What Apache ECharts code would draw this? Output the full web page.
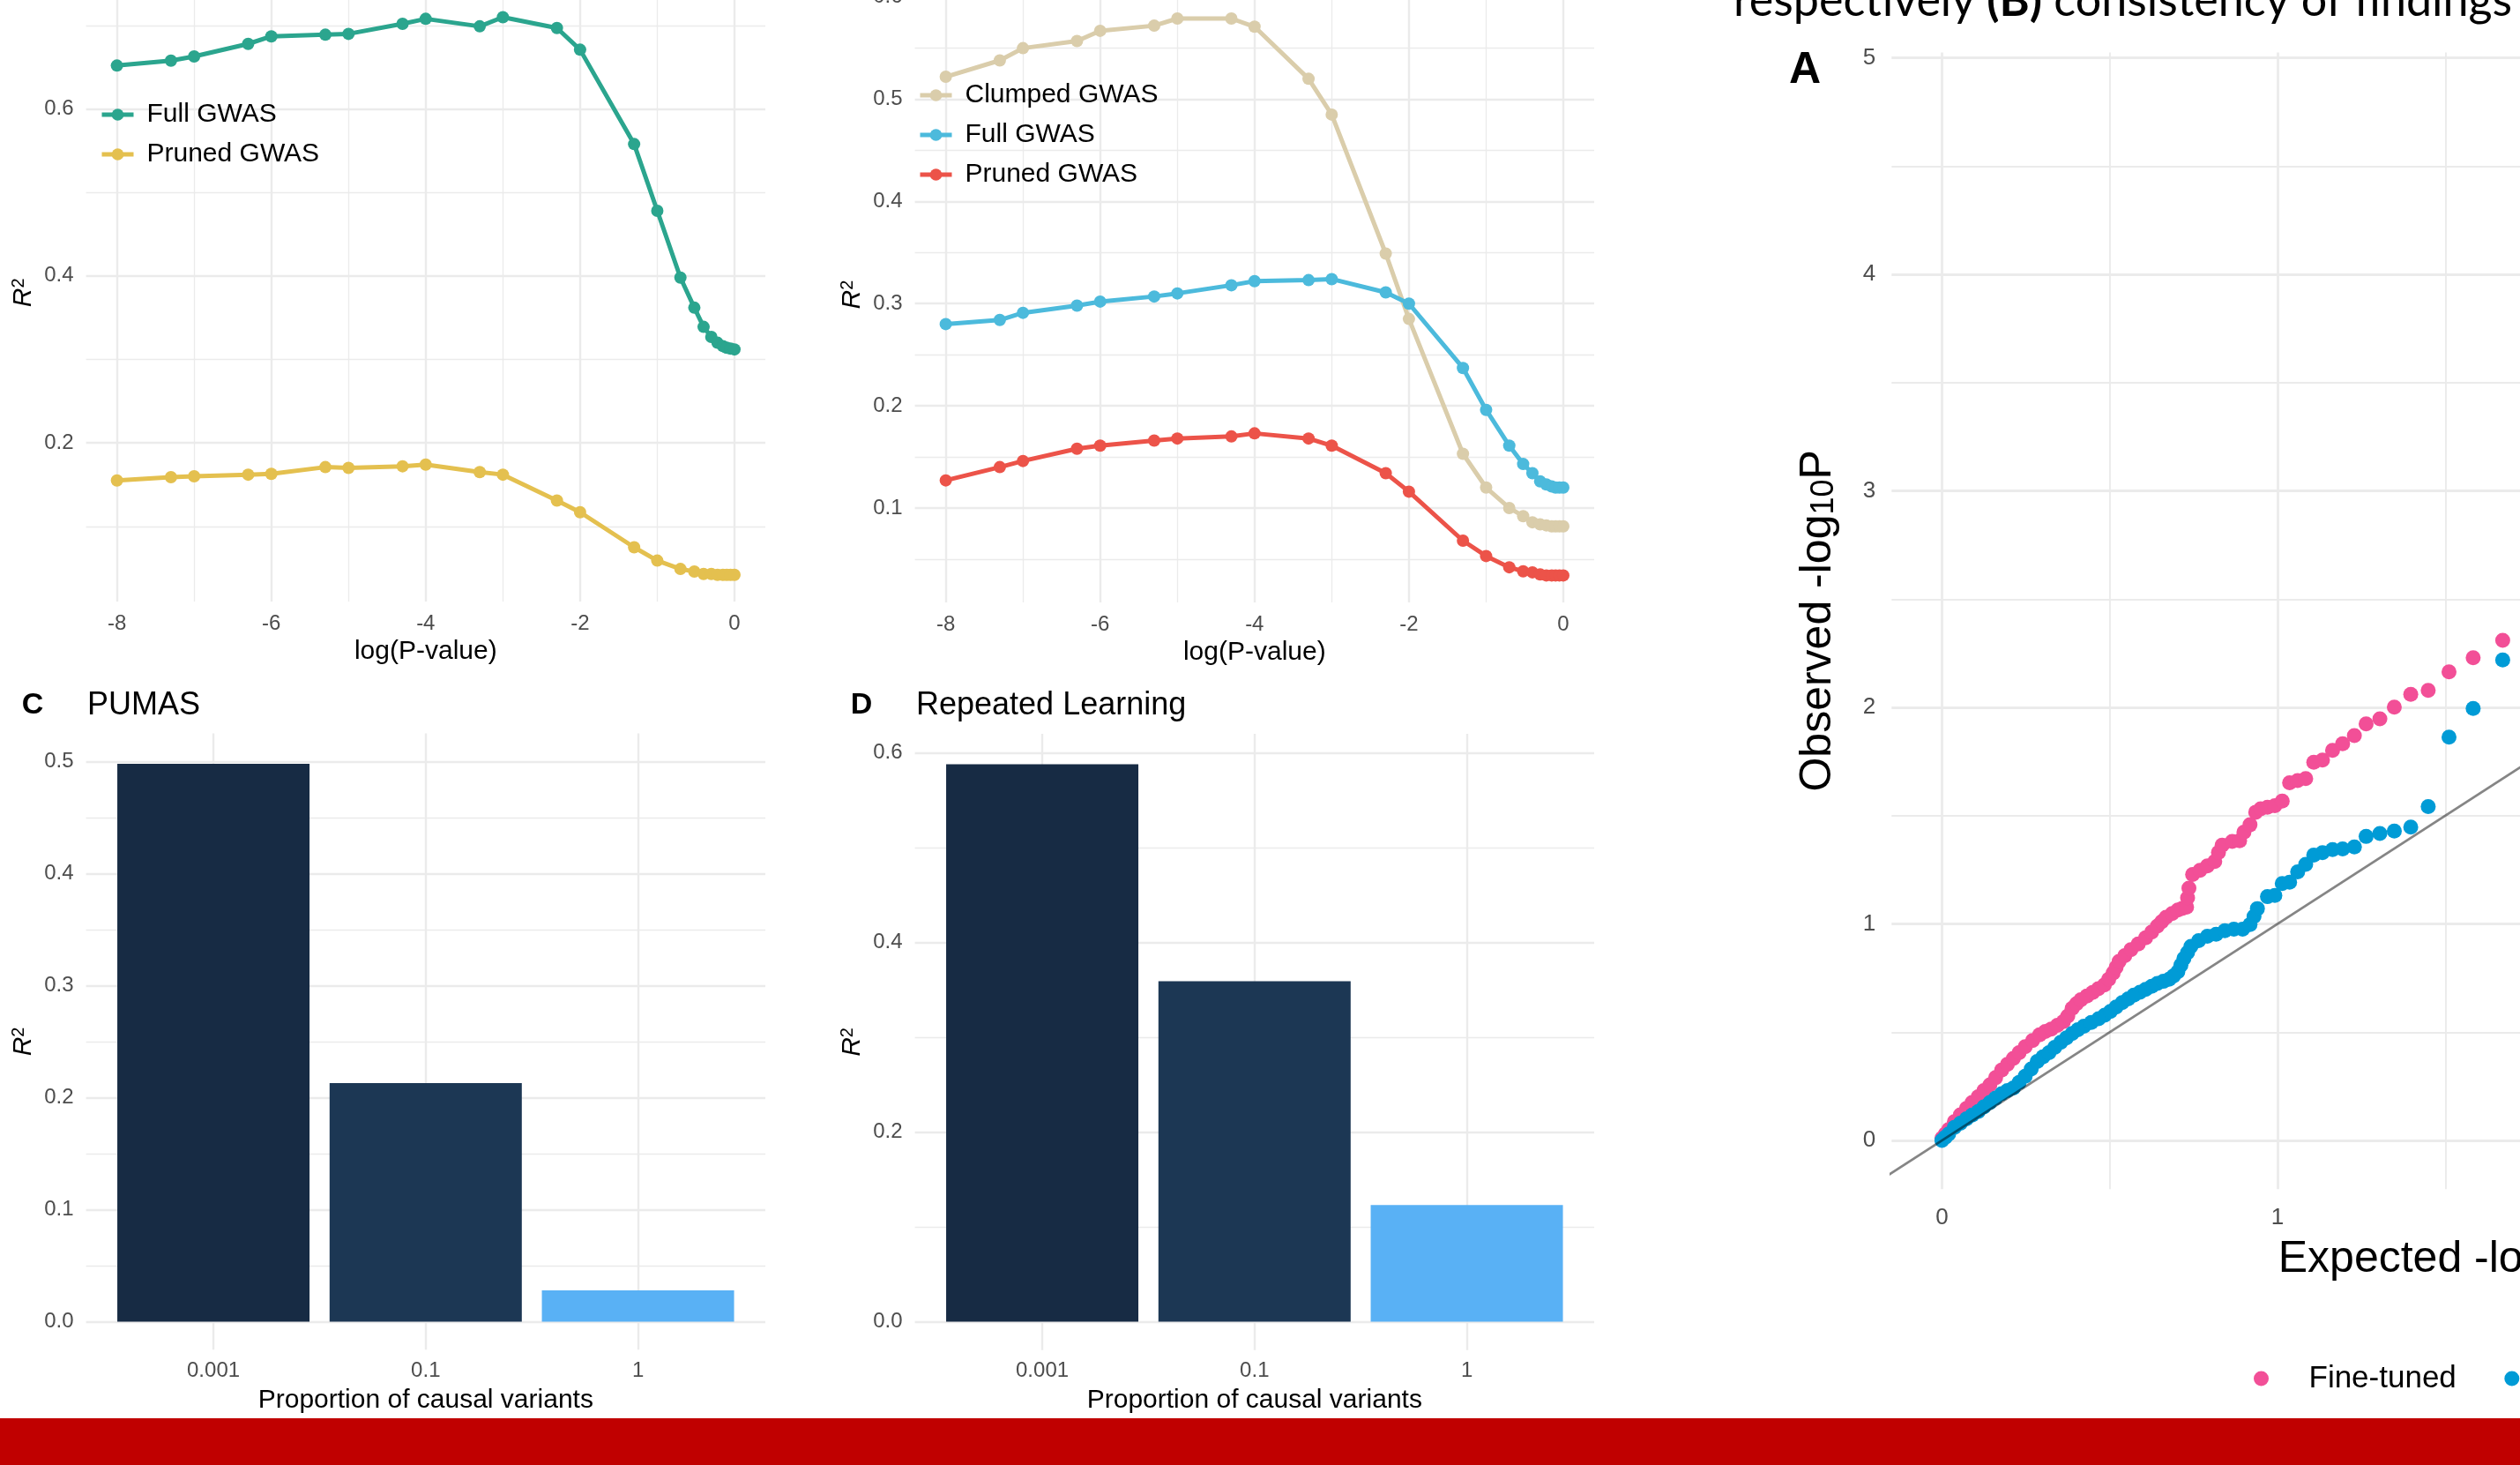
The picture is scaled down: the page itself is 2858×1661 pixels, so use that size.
<!DOCTYPE html>
<html>
<head>
<meta charset="utf-8">
<script src="https://cdn.jsdelivr.net/npm/echarts@6/dist/echarts.min.js"></script>
<style>
  html, body { margin: 0; padding: 0; background: #ffffff; }
  #chart { width: 2858px; height: 1661px; }
</style>
</head>
<body>
<div id="chart"></div>
<script>
// ---------------- data ----------------
// P-value thresholds on a log10 scale (shared by both threshold panels)
const logP = [-8, -7.3, -7, -6.3, -6, -5.3, -5, -4.3, -4, -3.3, -3, -2.3, -2, -1.3, -1, -0.7, -0.52, -0.4, -0.3, -0.22, -0.15, -0.1, -0.05, 0];

// left threshold panel
const simFull   = [0.652, 0.658, 0.663, 0.678, 0.687, 0.689, 0.690, 0.702, 0.708, 0.699, 0.710, 0.697, 0.671, 0.558, 0.478, 0.398, 0.362, 0.339, 0.327, 0.320, 0.316, 0.314, 0.313, 0.312];
const simPruned = [0.155, 0.159, 0.160, 0.162, 0.163, 0.171, 0.170, 0.172, 0.174, 0.165, 0.162, 0.131, 0.117, 0.075, 0.059, 0.049, 0.046, 0.043, 0.043, 0.042, 0.042, 0.042, 0.042, 0.042];

// right threshold panel
const ukbClumped = [0.522, 0.538, 0.550, 0.557, 0.567, 0.572, 0.579, 0.579, 0.571, 0.520, 0.485, 0.349, 0.285, 0.153, 0.120, 0.100, 0.092, 0.086, 0.084, 0.083, 0.082, 0.082, 0.082, 0.082];
const ukbFull    = [0.280, 0.284, 0.291, 0.298, 0.302, 0.307, 0.310, 0.318, 0.322, 0.323, 0.324, 0.311, 0.300, 0.237, 0.196, 0.161, 0.143, 0.134, 0.126, 0.123, 0.121, 0.120, 0.120, 0.120];
const ukbPruned  = [0.127, 0.140, 0.146, 0.158, 0.161, 0.166, 0.168, 0.170, 0.173, 0.168, 0.161, 0.134, 0.116, 0.068, 0.053, 0.042, 0.038, 0.037, 0.035, 0.034, 0.034, 0.034, 0.034, 0.034];

// bar panels
const causalProps = ['0.001', '0.1', '1'];
const pumasR2     = [0.498, 0.213, 0.028];
const repeatedR2  = [0.588, 0.359, 0.123];

// QQ plot: [expected -log10 P, observed -log10 P]
const qqFineTuned = [
  [0.000,0.010],[0.010,0.030],[0.020,0.050],[0.037,0.087],[0.055,0.118],[0.073,0.148],[0.090,0.175],[0.108,0.202],
  [0.125,0.230],[0.143,0.257],[0.160,0.290],[0.178,0.325],[0.195,0.352],[0.213,0.379],[0.230,0.406],[0.248,0.433],
  [0.270,0.462],[0.291,0.488],[0.308,0.503],[0.326,0.515],[0.344,0.532],[0.362,0.549],[0.375,0.575],[0.388,0.610],
  [0.401,0.632],[0.414,0.650],[0.432,0.667],[0.449,0.684],[0.466,0.701],[0.484,0.718],[0.497,0.745],[0.510,0.773],
  [0.519,0.800],[0.528,0.827],[0.545,0.854],[0.563,0.881],[0.585,0.908],[0.607,0.936],[0.625,0.963],[0.642,0.990],
  [0.655,1.010],[0.668,1.031],[0.686,1.048],[0.703,1.064],[0.716,1.072],[0.729,1.078],[0.732,1.120],[0.736,1.165],
  [0.747,1.228],[0.769,1.248],[0.791,1.268],[0.813,1.288],[0.824,1.330],[0.835,1.364],[0.865,1.381],[0.887,1.384],
  [0.900,1.424],[0.918,1.458],[0.935,1.516],[0.950,1.532],[0.970,1.539],[0.992,1.546],[1.014,1.567],[1.036,1.652],
  [1.060,1.662],[1.084,1.671],[1.108,1.747],[1.134,1.757],[1.164,1.802],[1.194,1.832],[1.229,1.870],[1.264,1.924],
  [1.305,1.947],[1.348,2.001],[1.397,2.060],[1.449,2.079],[1.511,2.164],[1.583,2.229],[1.671,2.310]
];
const qqPretrained = [
  [0.000,0.000],[0.010,0.015],[0.020,0.030],[0.037,0.060],[0.055,0.080],[0.073,0.100],[0.090,0.117],[0.108,0.134],
  [0.125,0.155],[0.143,0.175],[0.160,0.196],[0.178,0.216],[0.195,0.230],[0.213,0.243],[0.230,0.268],[0.248,0.297],
  [0.266,0.330],[0.284,0.365],[0.301,0.386],[0.319,0.406],[0.336,0.430],[0.354,0.453],[0.371,0.474],[0.388,0.494],
  [0.405,0.511],[0.423,0.528],[0.445,0.545],[0.467,0.562],[0.485,0.579],[0.502,0.596],[0.519,0.616],[0.537,0.637],
  [0.555,0.654],[0.572,0.671],[0.590,0.685],[0.607,0.698],[0.625,0.712],[0.642,0.725],[0.660,0.735],[0.677,0.745],
  [0.690,0.760],[0.703,0.779],[0.712,0.810],[0.721,0.840],[0.732,0.868],[0.742,0.896],[0.765,0.923],[0.791,0.943],
  [0.817,0.952],[0.843,0.969],[0.870,0.976],[0.896,0.976],[0.918,0.997],[0.930,1.035],[0.940,1.071],[0.970,1.126],
  [0.992,1.132],[1.014,1.187],[1.036,1.193],[1.060,1.241],[1.084,1.275],[1.108,1.318],[1.134,1.329],[1.164,1.343],
  [1.194,1.346],[1.229,1.356],[1.264,1.404],[1.305,1.418],[1.348,1.429],[1.397,1.447],[1.449,1.542],[1.511,1.863],
  [1.583,1.995],[1.671,2.219]
];
const qqDiagonal = [[-0.3, -0.3], [3.3, 3.3]];

// tick positions
const thresholdTicks = [-8, -6, -4, -2, 0];
const thresholdMinor = [-7, -5, -3, -1];
const simTicks   = [0.2, 0.4, 0.6];
const simMinor   = [0.1, 0.3, 0.5, 0.7];
const ukbTicks   = [0.1, 0.2, 0.3, 0.4, 0.5, 0.6];
const ukbMinor   = [0.05, 0.15, 0.25, 0.35, 0.45, 0.55];
const pumasTicks = [0, 0.1, 0.2, 0.3, 0.4, 0.5];
const pumasMinor = [0.05, 0.15, 0.25, 0.35, 0.45];
const rlTicks    = [0, 0.2, 0.4, 0.6];
const rlMinor    = [0.1, 0.3, 0.5];
const barSlots   = [1, 2, 3];
const qqXTicks   = [0, 1, 2, 3];
const qqXMinor   = [0.5, 1.5, 2.5];
const qqYTicks   = [0, 1, 2, 3, 4, 5];
const qqYMinor   = [0.5, 1.5, 2.5, 3.5, 4.5];

// ---------------- styling helpers ----------------
const FONT = '"Liberation Sans", Arial, Helvetica, sans-serif';
const GRID_COLOR = '#ebebeb';
const CLEAR = 'rgba(0,0,0,0)';
const TICK_GREY = '#4d4d4d';

// one colour per tick: grid colour where a line belongs, transparent elsewhere
function lineColors(min, max, step, at) {
  const n = Math.round((max - min) / step);
  const out = [];
  for (let i = 0; i <= n; i++) {
    const v = min + i * step;
    out.push(at.some(a => Math.abs(a - v) < step * 0.01) ? GRID_COLOR : CLEAR);
  }
  return out;
}
function pickLabel(v, step, ticks, fmt) {
  const t = ticks.find(a => Math.abs(a - v) < step * 0.01);
  return t === undefined ? '' : fmt(t);
}
// a value axis carrying the major grid + labels, and a twin carrying the minor grid
function axisPair(o) {
  const base = {
    type: 'value', gridIndex: o.grid, min: o.min, max: o.max, interval: o.step,
    axisLine: { show: false }, axisTick: { show: false }, splitArea: { show: false },
    minorTick: { show: false }, minorSplitLine: { show: false }, silent: true
  };
  const major = Object.assign({}, base, {
    splitLine: { show: true, lineStyle: { color: lineColors(o.min, o.max, o.step, o.major), width: o.majorW } },
    axisLabel: {
      show: true, margin: o.margin, color: TICK_GREY, fontFamily: FONT, fontSize: o.fontSize,
      formatter: v => pickLabel(v, o.step, o.major, o.fmt)
    }
  });
  if (o.name) {
    Object.assign(major, {
      name: o.name, nameLocation: 'middle', nameGap: o.nameGap, nameRotate: o.nameRotate || 0,
      nameTextStyle: o.nameStyle, nameMoveOverlap: false
    });
  }
  const list = [major];
  if (o.minor) {
    list.push(Object.assign({}, base, {
      splitLine: { show: true, lineStyle: { color: lineColors(o.min, o.max, o.step, o.minor), width: o.minorW } },
      axisLabel: { show: false }
    }));
  }
  return list;
}

const oneDecimal = v => v.toFixed(1);
const integer = v => String(Math.round(v));
const r2Name = '{r|R}{s|2}';
const r2Style = {
  rich: {
    r: { fontFamily: FONT, fontStyle: 'italic', fontSize: 30, lineHeight: 30, color: '#000' },
    s: { fontFamily: FONT, fontSize: 20, lineHeight: 14, verticalAlign: 'top', color: '#000' }
  }
};
const titleStyle = { fontFamily: FONT, fontSize: 30, color: '#000', lineHeight: 30 };
const qqNameStyle = {
  rich: {
    a: { fontFamily: FONT, fontSize: 50, lineHeight: 50, color: '#000' },
    s: { fontFamily: FONT, fontSize: 36, lineHeight: 22, verticalAlign: 'bottom', color: '#000' }
  }
};

// ---------------- layout (grids) ----------------
const grids = [
  { left: 97.6,  top: -18.4, width: 770.4, height: 700.4 },   // threshold, left
  { left: 1037.6, top: -14.9, width: 770.4, height: 698.0 },  // threshold, right
  { left: 97.6,  top: 831.6, width: 770.4, height: 698.7 },   // PUMAS
  { left: 1037.6, top: 832.0, width: 770.4, height: 698.8 },  // Repeated Learning
  { left: 2145.3, top: 59.4, width: 1256.0, height: 1288.9 }  // QQ
].map(g => Object.assign({ containLabel: false, outerBoundsMode: 'none' }, g));

// ---------------- axes ----------------
const xAxes = [], yAxes = [];
function addX(o) { const i = xAxes.length; xAxes.push(...axisPair(o)); return i; }
function addY(o) { const i = yAxes.length; yAxes.push(...axisPair(o)); return i; }

const thrX = g => ({
  grid: g, min: -8.4, max: 0.4, step: 0.2, major: thresholdTicks, minor: thresholdMinor,
  majorW: 2.4, minorW: 1.3, margin: 13, fontSize: 24, fmt: integer,
  name: 'log(P-value)', nameGap: 42, nameStyle: titleStyle
});
const xA = addX(thrX(0));
const yA = addY({ grid: 0, min: 0.01, max: 0.75, step: 0.01, major: simTicks, minor: simMinor,
  majorW: 2.4, minorW: 1.3, margin: 14, fontSize: 24, fmt: oneDecimal,
  name: r2Name, nameGap: 56, nameRotate: 90, nameStyle: r2Style });

const xB = addX(thrX(1));
const yB = addY({ grid: 1, min: 0.0075, max: 0.61, step: 0.0025, major: ukbTicks, minor: ukbMinor,
  majorW: 2.4, minorW: 1.3, margin: 14, fontSize: 24, fmt: oneDecimal,
  name: r2Name, nameGap: 56, nameRotate: 90, nameStyle: r2Style });

const barX = g => ({
  grid: g, min: 0.4, max: 3.6, step: 0.2, major: barSlots,
  majorW: 2.4, margin: 12, fontSize: 24, fmt: v => causalProps[Math.round(v) - 1],
  name: 'Proportion of causal variants', nameGap: 42, nameStyle: titleStyle
});
const xC = addX(barX(2));
const yC = addY({ grid: 2, min: -0.025, max: 0.525, step: 0.025, major: pumasTicks, minor: pumasMinor,
  majorW: 2.4, minorW: 1.3, margin: 14, fontSize: 24, fmt: oneDecimal,
  name: r2Name, nameGap: 56, nameRotate: 90, nameStyle: r2Style });

const xD = addX(barX(3));
const yD = addY({ grid: 3, min: -0.03, max: 0.62, step: 0.01, major: rlTicks, minor: rlMinor,
  majorW: 2.4, minorW: 1.3, margin: 14, fontSize: 24, fmt: oneDecimal,
  name: r2Name, nameGap: 56, nameRotate: 90, nameStyle: r2Style });

const xQ = addX({ grid: 4, min: -0.15, max: 3.15, step: 0.05, major: qqXTicks, minor: qqXMinor,
  majorW: 2.8, minorW: 1.9, margin: 20, fontSize: 26, fmt: integer,
  name: '{a|Expected -log}{s|10}{a|P}', nameGap: 55, nameStyle: qqNameStyle });
const yQ = addY({ grid: 4, min: -0.225, max: 5.025, step: 0.025, major: qqYTicks, minor: qqYMinor,
  majorW: 2.8, minorW: 1.9, margin: 18, fontSize: 26, fmt: integer,
  name: '{a|Observed -log}{s|10}{a|P}', nameGap: 58, nameRotate: 90, nameStyle: qqNameStyle });

// ---------------- series ----------------
const COL = {
  simFull: '#2ba58e', simPruned: '#e4c04f',
  ukbClumped: '#dacdab', ukbFull: '#4cbadc', ukbPruned: '#ec5349',
  bars: ['#172b44', '#1c3754', '#59b1f5'],
  fine: '#f24f97', pre: '#009bd6'
};
function thresholdLine(name, values, color, xi, yi) {
  return {
    type: 'line', name, xAxisIndex: xi, yAxisIndex: yi,
    data: logP.map((x, i) => [x, values[i]]),
    symbol: 'circle', symbolSize: 14, showSymbol: true,
    lineStyle: { width: 5, color }, itemStyle: { color, borderWidth: 0 },
    emphasis: { disabled: true }
  };
}
function bars(values, xi, yi) {
  return {
    type: 'bar', xAxisIndex: xi, yAxisIndex: yi, barWidth: 218,
    data: values.map((v, i) => ({ value: [i + 1, v], itemStyle: { color: COL.bars[i] } })),
    emphasis: { disabled: true }
  };
}

const series = [
  thresholdLine('Full GWAS', simFull, COL.simFull, xA, yA),
  thresholdLine('Pruned GWAS', simPruned, COL.simPruned, xA, yA),
  thresholdLine('Clumped GWAS', ukbClumped, COL.ukbClumped, xB, yB),
  thresholdLine('Full GWAS', ukbFull, COL.ukbFull, xB, yB),
  thresholdLine('Pruned GWAS', ukbPruned, COL.ukbPruned, xB, yB),
  bars(pumasR2, xC, yC),
  bars(repeatedR2, xD, yD),
  {
    type: 'scatter', name: 'Fine-tuned', xAxisIndex: xQ, yAxisIndex: yQ,
    data: qqFineTuned, symbol: 'circle', symbolSize: 17,
    itemStyle: { color: COL.fine, opacity: 1 }, emphasis: { disabled: true }
  },
  {
    type: 'scatter', name: 'Pre-trained', xAxisIndex: xQ, yAxisIndex: yQ,
    data: qqPretrained, symbol: 'circle', symbolSize: 17,
    itemStyle: { color: COL.pre, opacity: 1 }, emphasis: { disabled: true }
  },
  {
    type: 'line', xAxisIndex: xQ, yAxisIndex: yQ, data: qqDiagonal, z: 5,
    symbol: 'none', clip: true,
    lineStyle: { color: 'rgba(0,0,0,0.48)', width: 2.7 }, emphasis: { disabled: true }
  }
];

// ---------------- legends ----------------
const lineLegend = (left, top, items) => ({
  left, top, orient: 'vertical', selectedMode: false,
  itemWidth: 36, itemHeight: 17, itemGap: 15,
  textStyle: { fontFamily: FONT, fontSize: 30, lineHeight: 30, color: '#000', padding: [0, 0, 0, 10] },
  data: items.map(([name, color]) => ({ name, itemStyle: { color }, lineStyle: { color, width: 5 } }))
});
const legends = [
  lineLegend(108, 110, [['Full GWAS', COL.simFull], ['Pruned GWAS', COL.simPruned]]),
  lineLegend(1036, 88, [['Clumped GWAS', COL.ukbClumped], ['Full GWAS', COL.ukbFull], ['Pruned GWAS', COL.ukbPruned]]),
  {
    left: 2551, top: 1540.5, width: 1200, orient: 'horizontal', selectedMode: false, icon: 'circle',
    itemWidth: 98, itemHeight: 17, itemGap: 54.5,
    textStyle: { fontFamily: FONT, fontSize: 35, lineHeight: 35, color: '#000' },
    data: ['Fine-tuned', 'Pre-trained']
  }
];

// ---------------- free text and footer band ----------------
const graphics = [
  { type: 'text', x: 37, y: 800, style: { text: 'C', font: 'bold 34px ' + FONT, fill: '#000', align: 'center', verticalAlign: 'middle' } },
  { type: 'text', x: 99, y: 800, style: { text: 'PUMAS', font: '36px ' + FONT, fill: '#000', align: 'left', verticalAlign: 'middle' } },
  { type: 'text', x: 977, y: 800, style: { text: 'D', font: 'bold 34px ' + FONT, fill: '#000', align: 'center', verticalAlign: 'middle' } },
  { type: 'text', x: 1039, y: 800, style: { text: 'Repeated Learning', font: '36px ' + FONT, fill: '#000', align: 'left', verticalAlign: 'middle' } },
  { type: 'text', x: 2047, y: 80, style: { text: 'A', font: 'bold 50px ' + FONT, fill: '#000', align: 'center', verticalAlign: 'middle' } },
  {
    type: 'text', x: 1966, y: 1,
    style: {
      text: '{n|respectively }{b|(B)}{n| consistency of findings}',
      align: 'left', verticalAlign: 'middle',
      rich: {
        n: { fontFamily: 'Lato', fontSize: 52, fill: '#000', color: '#000' },
        b: { fontFamily: 'Lato', fontWeight: 'bold', fontSize: 52, fill: '#000', color: '#000' }
      }
    }
  },
  { type: 'rect', z: 100, shape: { x: 0, y: 1608, width: 2858, height: 53 }, style: { fill: '#c00000' } }
];

const chart = echarts.init(document.getElementById('chart'), null, { renderer: 'canvas' });
chart.setOption({
  animation: false,
  backgroundColor: '#ffffff',
  grid: grids,
  xAxis: xAxes,
  yAxis: yAxes,
  legend: legends,
  series,
  graphic: graphics
});
</script>
</body>
</html>
